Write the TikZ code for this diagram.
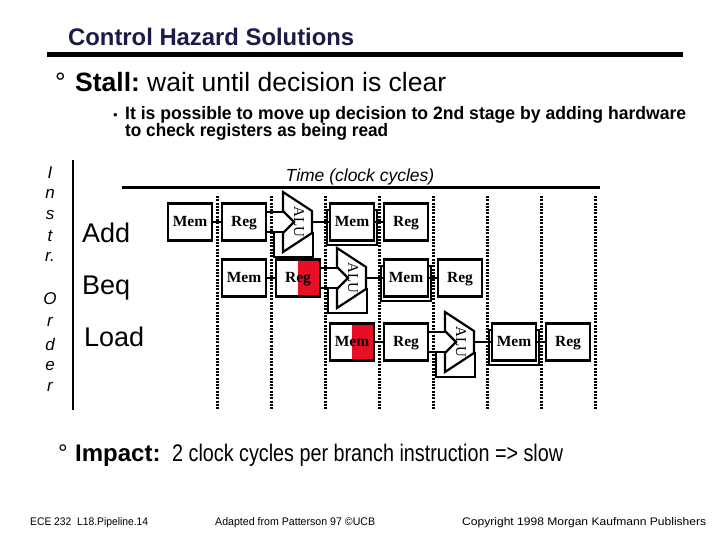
\documentclass[tikz,border=0pt]{standalone}
\usepackage{fontspec}
\setmainfont{Liberation Sans}
\newfontfamily\tms{Liberation Serif}
\definecolor{navy}{RGB}{24,28,72}
\definecolor{hired}{RGB}{232,14,40}
\tikzset{
 comp/.style={line width=2.2pt, line join=miter},
 box/.style={comp, draw, fill=white, minimum width=44pt, minimum height=37pt, inner sep=0pt, text height=11pt, text depth=3pt, font=\tms\bfseries\fontsize{15.5}{16}\selectfont},
 hl/.style={path picture={\fill[hired] (path picture bounding box.north) rectangle (path picture bounding box.south east);}},
 wire/.style={line width=2.6pt},
 dots/.style={line width=3pt, dash pattern=on 2pt off 1.3pt},
 alutext/.style={font=\tms\fontsize{15}{16}\selectfont, rotate=-90, inner sep=0pt},
 lbl/.style={inner sep=0pt, anchor=base west},
 ord/.style={font=\itshape\fontsize{17}{18}\selectfont, inner sep=0pt},
}
\newcommand\pipeline[5]{%
 \pgfmathsetmacro\pxa{#3}%
 \pgfmathsetmacro\pxb{#3+54}%
 \pgfmathsetmacro\pxc{#3+108}%
 \pgfmathsetmacro\pxd{#3+162}%
 \pgfmathsetmacro\pxe{#3+216}%
 \draw[comp] (\pxd-25,#2-12) rectangle (\pxd+25,#2+23);
 \draw[comp] (\pxc-24,#2+10) -- (\pxc-24,#2+35) -- (\pxc+15,#2+35) -- (\pxc+15,#2+10);
 \coordinate (#1ai) at (\pxc-14,#2-10);
 \coordinate (#1aj) at (\pxc-14,#2+10);
 \coordinate (#1ao) at (\pxc+14,#2);
 \coordinate (#1ri) at (\pxb+22,#2-10);
 \coordinate (#1rj) at (\pxb+22,#2+10);
 \node[box,#4] (#1im) at (\pxa,#2) {Mem};
 \node[box,#5] (#1rf) at (\pxb,#2) {Reg};
 \node[box] (#1dm) at (\pxd,#2) {Mem};
 \node[box] (#1wb) at (\pxe,#2) {Reg};
 \draw[comp,fill=white] (\pxc-15,#2-30) -- (\pxc+14,#2-11) -- (\pxc+14,#2+11) -- (\pxc-15,#2+30) -- (\pxc-15,#2+11) -- (\pxc-4,#2) -- (\pxc-15,#2-11) -- cycle;
 \node[alutext] (#1alu) at (\pxc+1,#2) {ALU};
 \draw[wire] (#1im) -- (#1rf);
 \draw[wire] (#1ri) -- (#1ai);
 \draw[wire] (#1rj) -- (#1aj);
 \draw[wire] (#1ao) -- (#1dm);
 \draw[wire] (#1dm) -- (#1wb);
}
\begin{document}
\begin{tikzpicture}[x=1pt,y=-1pt]
\useasboundingbox (0,0) rectangle (720,540);
% title
\node[lbl, text=navy] (title) at (68,46) {\resizebox{286pt}{\height}{\fontsize{24}{28}\selectfont\bfseries Control Hazard Solutions}};
\draw[line width=5pt] (47,54.5) coordinate (r1) -- (683,54.5) coordinate (r2);
% stall line
\node[lbl] (b1) at (55,92) {\fontsize{26.5}{30}\selectfont\textdegree};
\node[lbl] (stall) at (75,92) {\fontsize{26.5}{30}\selectfont\bfseries Stall:};
\node[lbl] (stallt) at (147,92) {\fontsize{26.5}{30}\selectfont wait until decision is clear};
\node[lbl] (b2) at (113,120) {\fontsize{13}{14}\selectfont\textbullet};
\node[lbl] (sub1) at (125,120) {\resizebox{561pt}{\height}{\fontsize{18}{20}\selectfont\bfseries It is possible to move up decision to 2nd stage by adding hardware}};
\node[lbl] (sub2) at (125,137) {\resizebox{263pt}{\height}{\fontsize{18}{20}\selectfont\bfseries to check registers as being read}};
% axes
\node[font=\itshape\fontsize{17.5}{20}\selectfont] (time) at (360,177) {Time (clock cycles)};
\draw[line width=3pt] (122,188) coordinate (t1) -- (600,188) coordinate (t2);
\draw[line width=2pt] (73,160) coordinate (o1) -- (73,410) coordinate (o2);
\foreach \ch/\yy/\nm in {I/173/l1, n/194/l2, s/215/l3, t/236/l4, r./257/l5, O/299/l6, r/322/l7, d/344/l8, e/366/l9, r/387/l10}
  \node[ord] (\nm) at (50,\yy) {\ch};
\node[lbl, font=\fontsize{27}{30}\selectfont] (add) at (82,242) {Add};
\node[lbl, font=\fontsize{27}{30}\selectfont] (beq) at (82,294) {Beq};
\node[lbl, font=\fontsize{27}{30}\selectfont] (load) at (84,346) {Load};
% dotted cycle lines
\foreach \k in {0,...,7}
  \draw[dots] ({217+54*\k},196) -- ({217+54*\k},410);
% pipelines
\pipeline{a}{222}{190}{}{}
\pipeline{b}{278}{244}{}{hl}
\pipeline{c}{342}{352}{hl}{}
% impact
\node[lbl] (b3) at (58,461) {\fontsize{24}{26}\selectfont\textdegree};
\node[lbl] (imp) at (75,461) {\fontsize{24}{26}\selectfont\bfseries Impact:};
\node[lbl] (impt) at (172,461) {\resizebox{391pt}{\height}{\fontsize{24}{26}\selectfont 2 clock cycles per branch instruction => slow}};
% footer
\node[lbl] (f1) at (30,525) {\resizebox{118pt}{\height}{\fontsize{11}{12}\selectfont ECE 232\ \ L18.Pipeline.14}};
\node[lbl] (f2) at (215,525) {\resizebox{160pt}{\height}{\fontsize{11}{12}\selectfont Adapted from Patterson 97 \textcopyright UCB}};
\node[lbl] (f3) at (462,525) {\resizebox{244pt}{\height}{\fontsize{11}{12}\selectfont Copyright 1998 Morgan Kaufmann Publishers}};
\end{tikzpicture}
\end{document}
